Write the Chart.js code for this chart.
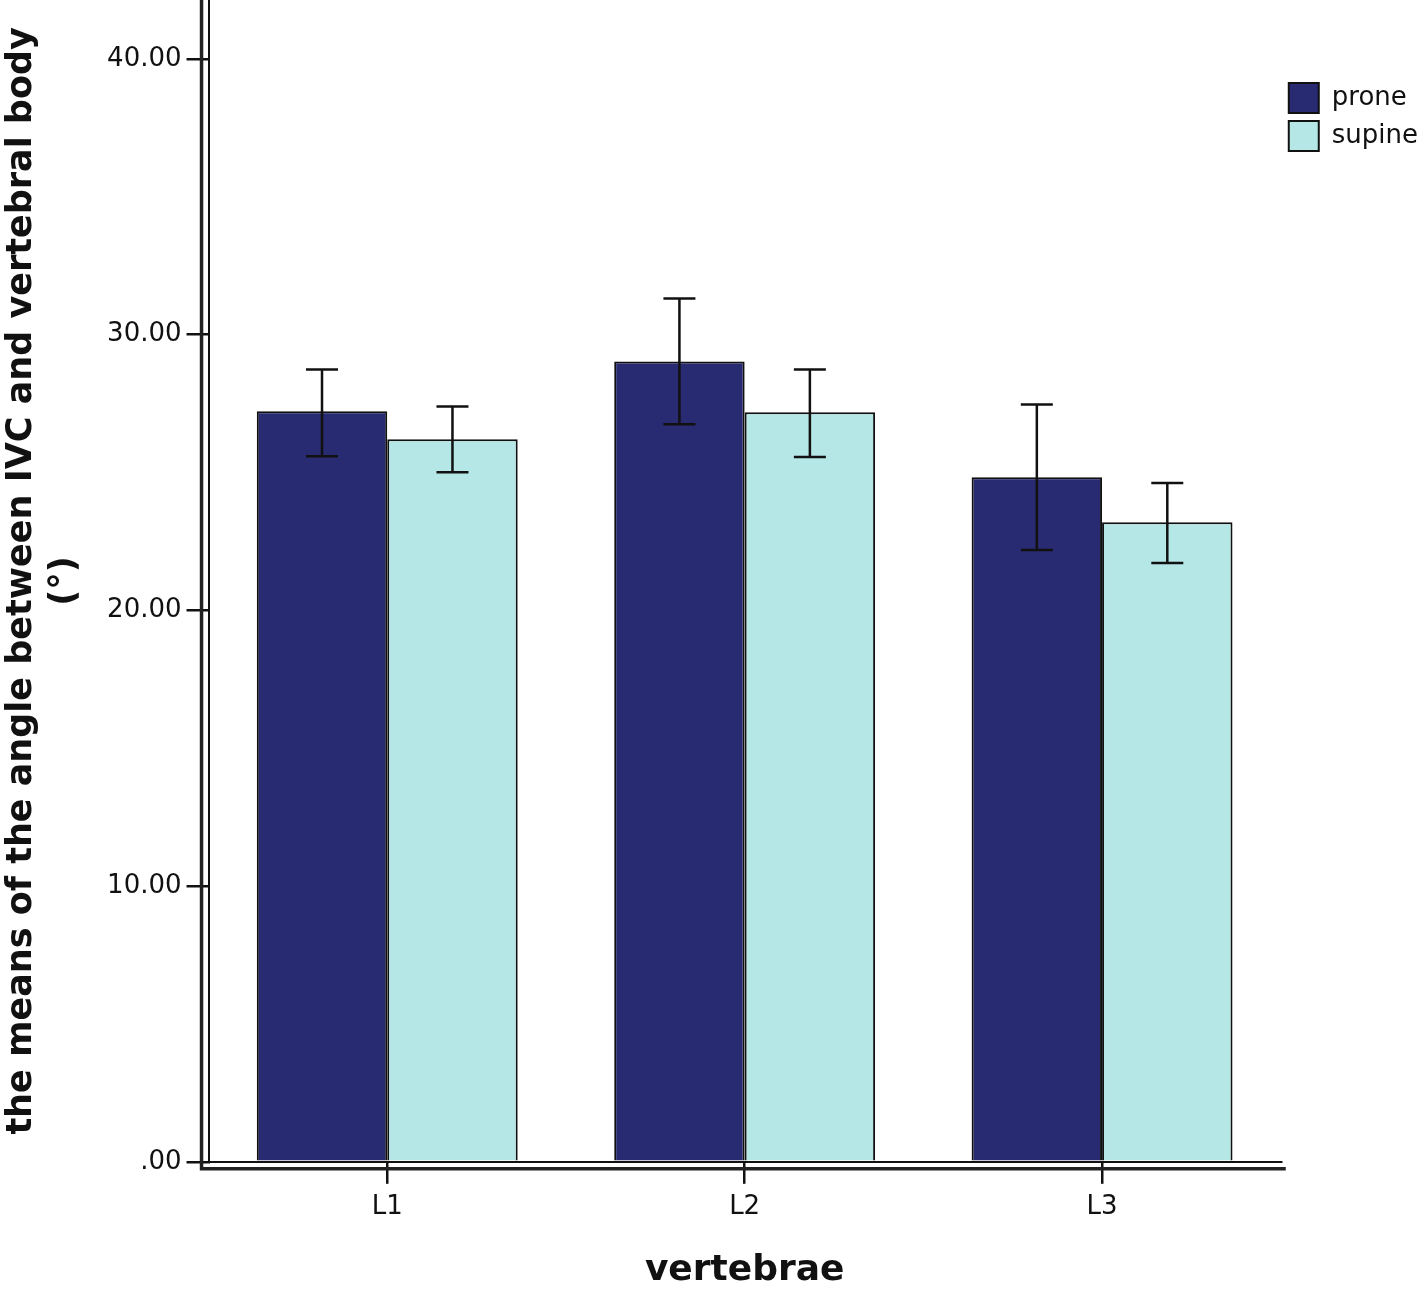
<!DOCTYPE html>
<html>
<head>
<meta charset="utf-8">
<script src="https://cdn.jsdelivr.net/npm/chart.js@4.4.0/dist/chart.umd.min.js"></script>
<style>
  html, body { margin: 0; padding: 0; background: #fff; }
</style>
</head>
<body>
<canvas id="chart" width="1418" height="1289"></canvas>
<script>
const categories = ['L1', 'L2', 'L3'];
const proneMeans = [27.22, 29.03, 24.83];
const supineMeans = [26.21, 27.19, 23.20];
// 95% CI ends
const proneLow = [25.59, 26.75, 22.19];
const proneHigh = [28.74, 31.31, 27.47];
const supineLow = [25.01, 25.56, 21.72];
const supineHigh = [27.40, 28.74, 24.62];
const yTicks = [0, 10, 20, 30, 40];

const FONT = '"DejaVu Sans", Verdana, sans-serif';

// double axis lines + error bars
const spssFrame = {
  id: 'spssFrame',
  afterDatasetsDraw(chart) {
    const ctx = chart.ctx;
    const y = chart.scales.y;
    const lows = [proneLow, supineLow];
    const highs = [proneHigh, supineHigh];
    ctx.save();
    ctx.strokeStyle = '#111';
    ctx.lineWidth = 2.5;
    chart.data.datasets.forEach((ds, di) => {
      chart.getDatasetMeta(di).data.forEach((bar, i) => {
        const top = y.getPixelForValue(highs[di][i]);
        const bot = y.getPixelForValue(lows[di][i]);
        ctx.beginPath();
        ctx.moveTo(bar.x, top); ctx.lineTo(bar.x, bot);
        ctx.moveTo(bar.x - 16, top); ctx.lineTo(bar.x + 16, top);
        ctx.moveTo(bar.x - 16, bot); ctx.lineTo(bar.x + 16, bot);
        ctx.stroke();
      });
    });
    ctx.restore();
  },
  afterDraw(chart) {
    const { left, right, top, bottom } = chart.chartArea;
    const ctx = chart.ctx;
    ctx.save();
    ctx.strokeStyle = '#222';
    ctx.lineWidth = 3.5;
    ctx.beginPath();
    ctx.moveTo(left - 7, top);
    ctx.lineTo(left - 7, bottom + 7);
    ctx.lineTo(right + 5, bottom + 7);
    ctx.stroke();
    ctx.restore();
  }
};

new Chart(document.getElementById('chart'), {
  type: 'bar',
  data: {
    labels: categories,
    datasets: [
      { label: 'prone', data: proneMeans, backgroundColor: '#282A72', borderColor: '#111', borderWidth: 2 },
      { label: 'supine', data: supineMeans, backgroundColor: '#B4E7E6', borderColor: '#111', borderWidth: 2 }
    ]
  },
  options: {
    responsive: false,
    animation: false,
    layout: { padding: { left: 0, right: -10, top: 0, bottom: 0 } },
    datasets: { bar: { categoryPercentage: 0.73, barPercentage: 1 } },
    plugins: {
      tooltip: { enabled: false },
      legend: {
        position: 'right',
        align: 'start',
        title: { display: true, text: ' ', font: { size: 10, lineHeight: 1 }, padding: { top: 0, bottom: 65 } },
        labels: {
          boxWidth: 30, boxHeight: 30, padding: 8, color: '#111',
          font: { family: FONT, size: 26 }
        }
      }
    },
    scales: {
      x: {
        grid: { display: true, offset: false, drawOnChartArea: false, drawTicks: true, tickLength: 22, color: '#111', lineWidth: 2.5 },
        border: { display: true, color: '#111', width: 2 },
        ticks: { color: '#111', padding: 8, font: { family: FONT, size: 26, lineHeight: 1.2 } },
        title: { display: true, text: 'vertebrae', color: '#111', padding: { top: 22, bottom: 0 }, font: { family: FONT, size: 36, weight: 'bold', lineHeight: 1 } }
      },
      y: {
        min: 0,
        max: 42.14,
        afterBuildTicks: scale => { scale.ticks = yTicks.map(v => ({ value: v })); },
        afterFit: scale => { scale.paddingTop = 0; },
        grid: { display: true, drawOnChartArea: false, drawTicks: true, tickLength: 22, color: '#111', lineWidth: 2.5 },
        border: { display: true, color: '#111', width: 2 },
        ticks: {
          color: '#111', padding: 5, font: { family: FONT, size: 26 },
          callback: v => v === 0 ? '.00' : v.toFixed(2)
        },
        title: {
          display: true,
          text: ['the means of the angle between IVC and vertebral body', '(°)'],
          color: '#111', padding: { top: 0, bottom: 16 },
          font: { family: FONT, size: 35, weight: 'bold', lineHeight: 1.23 }
        }
      }
    }
  },
  plugins: [spssFrame]
});
</script>
</body>
</html>
